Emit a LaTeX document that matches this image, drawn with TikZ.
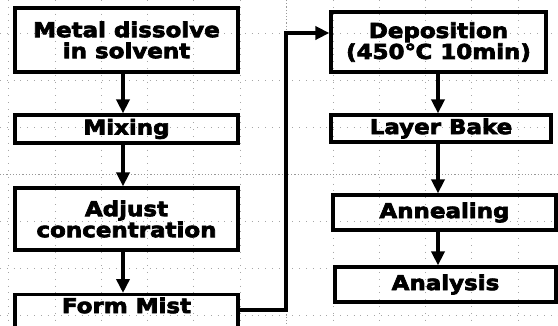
\documentclass[tikz,border=0pt]{standalone}
\usepackage{fontspec}
\newfontfamily\heavy{DejaVu Sans}[FakeStretch=1.12,FakeBold=3.5]
\usetikzlibrary{arrows.meta}
\tikzset{
  stepbox/.style={draw, line width=3.2pt, inner sep=0pt, align=center,
    font=\heavy\bfseries\fontsize{20.5}{21}\selectfont},
  flow/.style={line width=3.6pt, -{Triangle[length=14pt,width=13pt]}},
  gridline/.style={gray!70, line width=0.8pt, dash pattern=on 0.8pt off 6pt},
  gridline2/.style={gray!80, line width=0.8pt, dash pattern=on 1.2pt off 2pt}
}
\begin{document}
\begin{tikzpicture}[x=1pt,y=-1pt]
\useasboundingbox (0,0) rectangle (558,325);
\begin{scope}
\clip (0,0) rectangle (558,325);
% background grid
\foreach \gx in {8,55,101,147,193,240,333,379,425,471,518}
  \draw[gridline] (\gx,0) -- (\gx,325);
\draw[gridline2] (286,0) -- (286,325);
\foreach \gy in {33,80,127,221,268,315}
  \draw[gridline] (0,\gy) -- (558,\gy);
\draw[gridline2] (0,174) -- (558,174);

% left column
\node[stepbox, minimum width=223pt, minimum height=64pt] (b1) at (126.5,40) {Metal dissolve\\in solvent};
\node[stepbox, minimum width=223pt, minimum height=28pt] (b2) at (126.5,129) {Mixing};
\node[stepbox, minimum width=223pt, minimum height=62pt] (b3) at (126.5,219) {Adjust\\concentration};
\node[stepbox, minimum width=223pt, minimum height=44pt, text height=15pt, text depth=22pt, anchor=north] (b4) at (126.5,293) {Form Mist};

% right column
\node[stepbox, minimum width=215pt, minimum height=60pt] (d1) at (438.5,42) {Deposition\\(450℃ 10min)};
\node[stepbox, minimum width=220pt, minimum height=27pt] (d2) at (441,128.5) {Layer Bake};
\node[stepbox, minimum width=223pt, minimum height=35pt] (d3) at (444.5,212.5) {Annealing};
\node[stepbox, minimum width=221pt, minimum height=35pt] (d4) at (445.5,284.5) {Analysis};

% connectors
\coordinate (c1) at (286,310);
\coordinate (c2) at (286,33);
\draw[flow] (b1.south -| 123,0) -- (b2.north -| 123,0);
\draw[flow] (b2.south -| 123,0) -- (b3.north -| 123,0);
\draw[flow] (b3.south -| 123,0) -- (b4.north -| 123,0);
\draw[flow] (b4.east |- c1) -- (c1) -- (c2) -- (d1.west |- c2);
\draw[flow] (d1.south -| 438,0) -- (d2.north -| 438,0);
\draw[flow] (d2.south -| 438,0) -- (d3.north -| 438,0);
\draw[flow] (d3.south -| 438,0) -- (d4.north -| 438,0);
\end{scope}
\end{tikzpicture}
\end{document}
